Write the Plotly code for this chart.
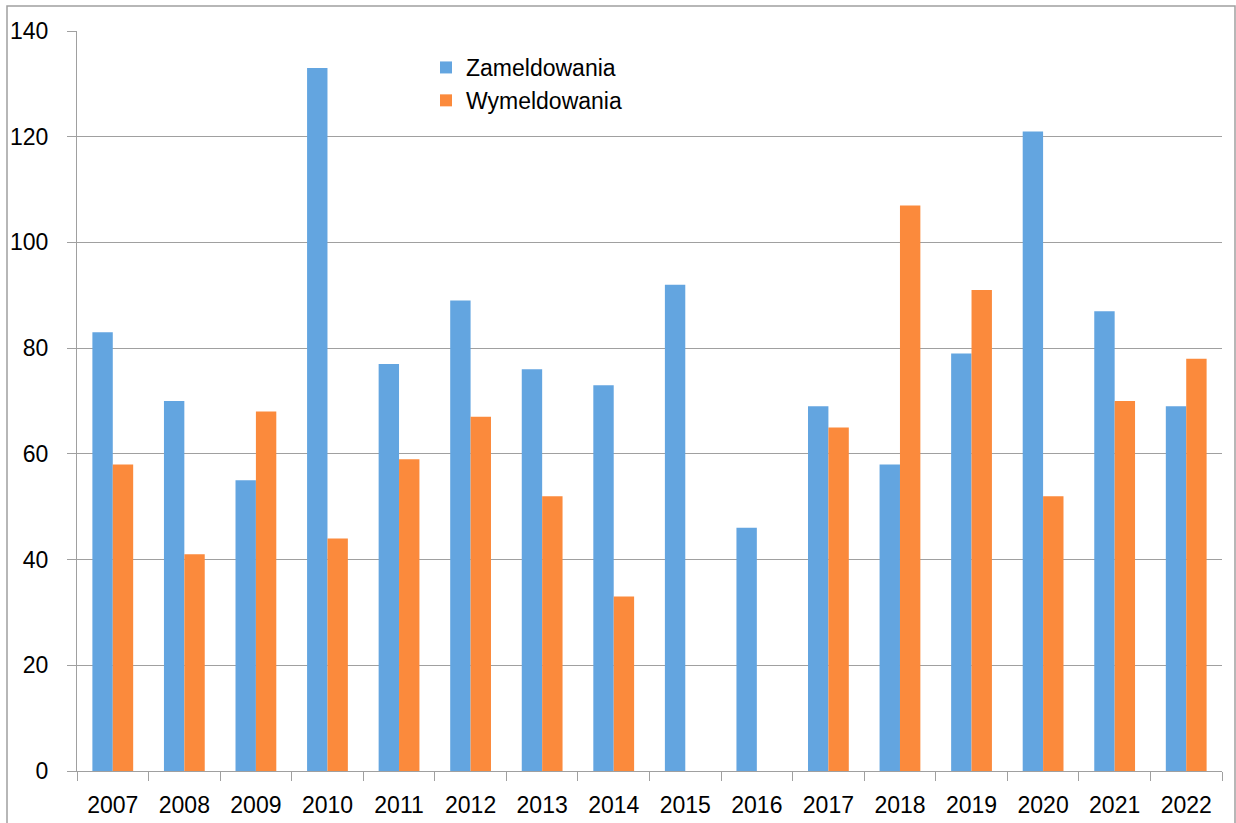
import plotly.graph_objects as go

years = ["2007", "2008", "2009", "2010", "2011", "2012", "2013", "2014",
         "2015", "2016", "2017", "2018", "2019", "2020", "2021", "2022"]
zameldowania = [83, 70, 55, 133, 77, 89, 76, 73, 92, 46, 69, 58, 79, 121, 87, 69]
wymeldowania = [58, 41, 68, 44, 59, 67, 52, 33, 0, 0, 65, 107, 91, 52, 70, 78]

FONT = "Liberation Sans"
FS = 23

fig = go.Figure()
fig.add_trace(go.Bar(x=years, y=zameldowania, name="Zameldowania",
                     marker=dict(color="#63A5E0", line=dict(width=0))))
fig.add_trace(go.Bar(x=years, y=wymeldowania, name="Wymeldowania",
                     marker=dict(color="#FB8A3C", line=dict(width=0))))

W, H = 1236, 823
L, R, T, B = 77, 14, 31, 52
pw, ph = W - L - R, H - T - B

fig.update_layout(
    width=W, height=H,
    margin=dict(l=L, r=R, t=T, b=B, autoexpand=False),
    paper_bgcolor="white", plot_bgcolor="white",
    barmode="group", bargap=0.43, bargroupgap=0.0,
    font=dict(family=FONT, size=FS, color="black"),
    showlegend=True,
    legend=dict(x=(426 - L) / pw, y=1 - (46 - T) / ph, xanchor="left", yanchor="top",
                bgcolor="rgba(0,0,0,0)", font=dict(family=FONT, size=FS),
                tracegroupgap=0),
    xaxis=dict(type="category", showline=True, linecolor="#A0A0A0", linewidth=1,
               ticks="outside", tickson="boundaries", ticklen=9, tickcolor="#A0A0A0",
               showgrid=False, tickfont=dict(family=FONT, size=FS), ticklabelstandoff=13,
               automargin=False),
    yaxis=dict(range=[0, 140], dtick=20, showline=True, linecolor="#A0A0A0", linewidth=1,
               ticks="outside", ticklen=9, tickcolor="#A0A0A0",
               showgrid=True, gridcolor="#A0A0A0", gridwidth=1, zeroline=False,
               tickfont=dict(family=FONT, size=FS), ticklabelstandoff=14,
               automargin=False),
)

# outer frame (bottom edge lies below the visible page)
fig.add_shape(type="rect", xref="paper", yref="paper",
              x0=(7 - L) / pw, x1=(1235 - L) / pw,
              y0=1 - (860 - T) / ph, y1=1 + (T - 6) / ph,
              line=dict(color="#A0A0A0", width=1.5), fillcolor="rgba(0,0,0,0)", layer="below")

fig.write_html("out.html", config={"displayModeBar": False},
               post_script="document.body.style.margin='0';document.body.style.overflow='hidden';")
